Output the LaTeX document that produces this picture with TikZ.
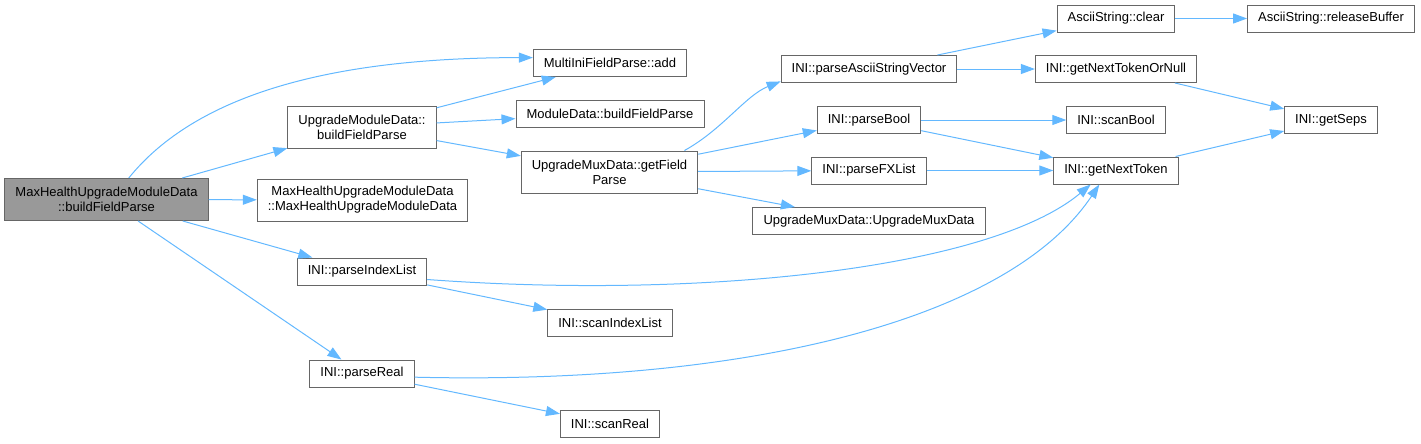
\documentclass[tikz,border=0pt]{standalone}
\usepackage{fontspec}
\setmainfont{Liberation Sans}
\usepackage{tikz}
\usetikzlibrary{arrows.meta,positioning}
\definecolor{cgedge}{HTML}{63B8FF}
\definecolor{cgline}{HTML}{666666}
\definecolor{cgroot}{HTML}{999999}

\begin{document}
\begin{tikzpicture}[x=0.75pt, y=-0.75pt,
  fn/.style={rectangle, draw=cgline, fill=white, line width=0.75pt,
    minimum height=20.25pt, inner xsep=7.9pt, inner ysep=1pt, align=center,
    font=\fontsize{9.75}{11.25}\selectfont},
  fn2/.style={fn, minimum height=31.5pt},
  root/.style={fn2, fill=cgroot},
  call/.style={cgedge, line width=0.75pt, -{Triangle[length=10.5pt,width=7.5pt]}}
]
  \useasboundingbox (0,0) rectangle (1421,443);

  % Caller
  \node[root] (main)  at (106.5,199.5) {MaxHealthUpgradeModuleData\\::buildFieldParse};

  % First level
  \node[fn2] (umd)   at (362,127)   {UpgradeModuleData::\\buildFieldParse};
  \node[fn2] (mhc)   at (362.5,200) {MaxHealthUpgradeModuleData\\::MaxHealthUpgradeModuleData};
  \node[fn]  (pil)   at (362,271.5) {INI::parseIndexList};
  \node[fn]  (preal) at (362,373.5) {INI::parseReal};

  % Second level
  \node[fn]  (add)   at (610,63)    {MultiIniFieldParse::add};
  \node[fn]  (mdb)   at (610,113.5) {ModuleData::buildFieldParse};
  \node[fn2] (gfp)   at (609.5,172) {UpgradeMuxData::getField\\Parse};
  \node[fn]  (sil)   at (610,322.5) {INI::scanIndexList};
  \node[fn]  (sreal) at (610,424)   {INI::scanReal};

  % Third level
  \node[fn]  (pasv)  at (869,69)    {INI::parseAsciiStringVector};
  \node[fn]  (pbool) at (869,120)   {INI::parseBool};
  \node[fn]  (pfx)   at (869,170.5) {INI::parseFXList};
  \node[fn]  (umc)   at (869,221)   {UpgradeMuxData::UpgradeMuxData};

  % Fourth level
  \node[fn]  (clear) at (1116,18.5) {AsciiString::clear};
  \node[fn]  (gnton) at (1116,69)   {INI::getNextTokenOrNull};
  \node[fn]  (sbool) at (1116,120)  {INI::scanBool};
  \node[fn]  (gnt)   at (1116,170.5){INI::getNextToken};

  % Fifth level
  \node[fn]  (rel)   at (1331,18.5) {AsciiString::releaseBuffer};
  \node[fn]  (seps)  at (1331,120)  {INI::getSeps};

  % Calls
  \draw[call] (main.44) .. controls +(67,-83) and +(-203,0) .. (add.176);
  \draw[call] (main) -- (umd);
  \draw[call] (main) -- (mhc);
  \draw[call] (main) -- (pil);
  \draw[call] (main) -- (preal);
  \draw[call] (umd) -- (add);
  \draw[call] (umd) -- (mdb);
  \draw[call] (umd) -- (gfp);
  \draw[call] (gfp.16) .. controls +(38,-21) and +(-35,14) .. (pasv.188);
  \draw[call] (gfp) -- (pbool);
  \draw[call] (gfp) -- (pfx);
  \draw[call] (gfp) -- (umc);
  \draw[call] (pasv) -- (clear);
  \draw[call] (pasv) -- (gnton);
  \draw[call] (clear) -- (rel);
  \draw[call] (gnton) -- (seps);
  \draw[call] (pbool) -- (sbool);
  \draw[call] (pbool) -- (gnt);
  \draw[call] (pfx) -- (gnt);
  \draw[call] (gnt) -- (seps);
  \draw[call] (pil.-7) .. controls +(272,20) and +(-102,85) .. (gnt.-151);
  \draw[call] (pil) -- (sil);
  \draw[call] (preal.-4) .. controls +(335,8) and +(-90,135) .. (gnt.-140);
  \draw[call] (preal) -- (sreal);
\end{tikzpicture}
\end{document}
